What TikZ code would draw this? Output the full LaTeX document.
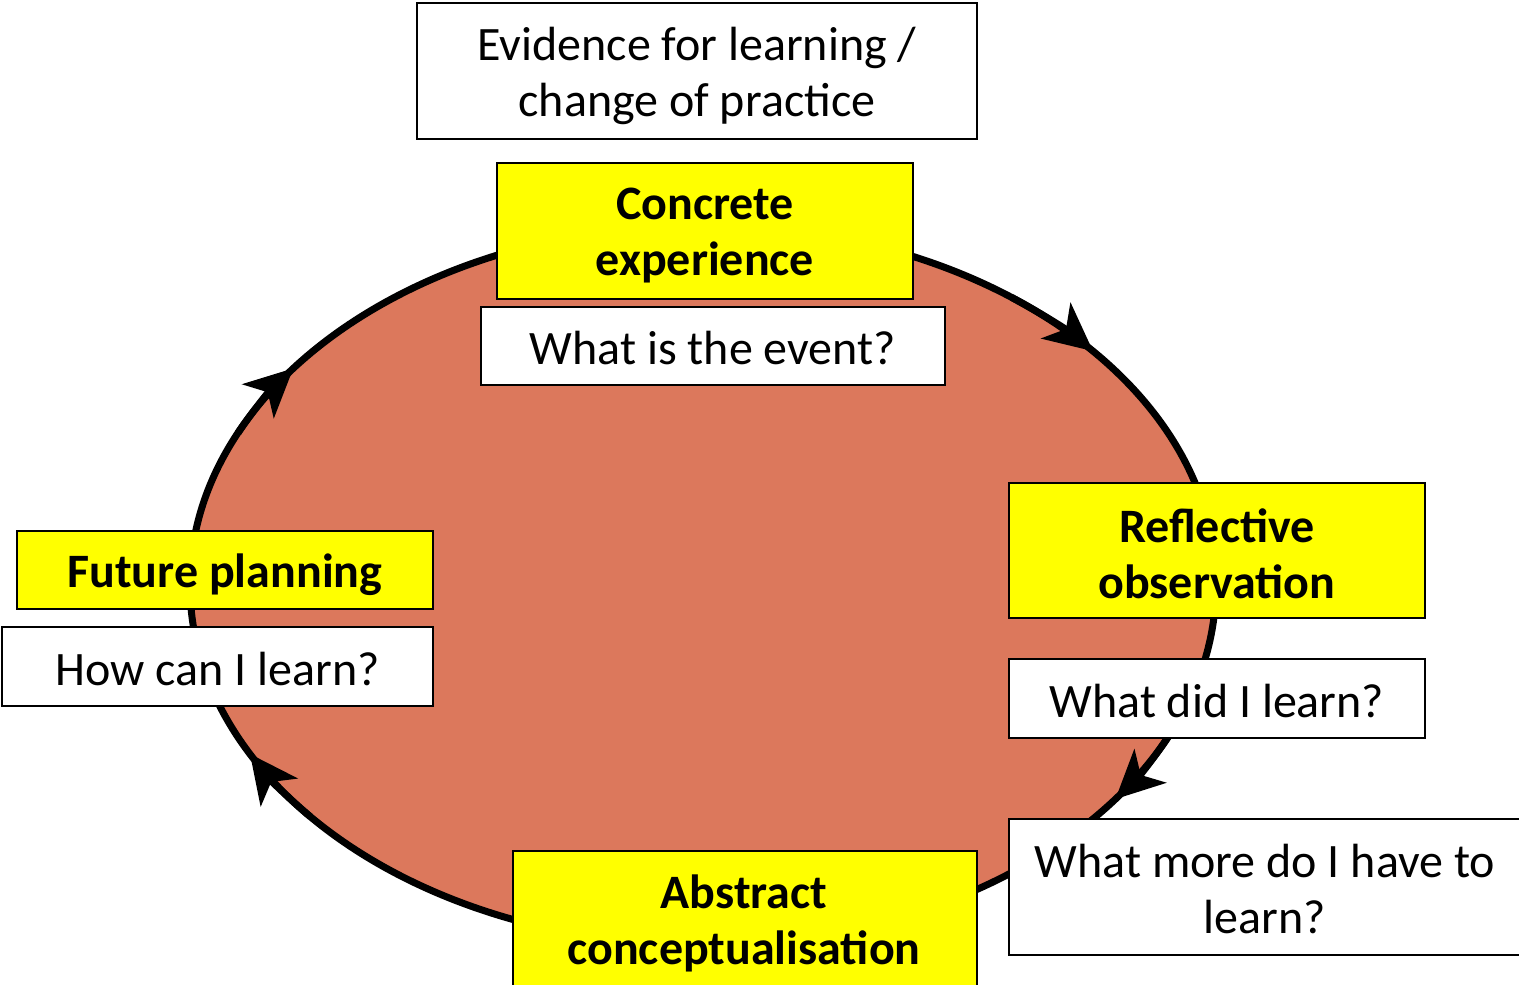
\documentclass[tikz,border=0pt]{standalone}
\usepackage{fontspec}
\setmainfont{Carlito}
\usetikzlibrary{arrows.meta}
\definecolor{salmon}{RGB}{220,120,92}
\definecolor{yel}{RGB}{255,255,0}
\begin{document}
\begin{tikzpicture}[x=1pt,y=-1pt,
  txt/.style={font=\fontsize{48}{56}\selectfont, align=center, inner sep=0pt},
  btxt/.style={txt, font=\fontsize{48}{56}\selectfont\bfseries},
  box/.style={draw=black, line width=1.8pt, fill=white, anchor=north west, inner sep=0pt},
  ybox/.style={box, fill=yel},
  cyc/.style={line width=7pt, -{Stealth[length=48pt,width=46pt,inset=13pt]}}
]
\useasboundingbox (0,0) rectangle (1519,985);
\coordinate (c) at (703,585);
\fill[salmon] (c) ellipse [x radius=513, y radius=360];
\draw[line width=7pt] (c) ellipse [x radius=513, y radius=360];
% arrowheads (clockwise)
\draw[cyc] ([shift={(-53:513 and 360)}]c) arc[start angle=-53, end angle=-40.5, x radius=513, y radius=360];
\draw[cyc] ([shift={(24:513 and 360)}]c) arc[start angle=24, end angle=36.5, x radius=513, y radius=360];
\draw[cyc] ([shift={(140:513 and 360)}]c) arc[start angle=140, end angle=152, x radius=513, y radius=360];
\draw[cyc] ([shift={(205:513 and 360)}]c) arc[start angle=205, end angle=217, x radius=513, y radius=360];
% boxes
\node[box, minimum width=560, minimum height=136] (evid) at (416,2) {};
\node[txt] (evidt) at ([yshift=-5pt]evid.center) {Evidence for learning /\\change of practice};
\node[ybox, minimum width=416, minimum height=136] (conc) at (496,162) {};
\node[btxt] (conct) at ([yshift=-5pt]conc.center) {Concrete\\experience};
\node[box, minimum width=464, minimum height=78] (event) at (480,306) {};
\node[txt] (eventt) at ([yshift=-2pt]event.center) {What is the event?};
\node[ybox, minimum width=416, minimum height=135] (refl) at (1008,482) {};
\node[btxt] (reflt) at ([yshift=-3pt]refl.center) {Reflective\\observation};
\node[box, minimum width=416, minimum height=79] (did) at (1008,658) {};
\node[txt] (didt) at ([yshift=-3pt]did.center) {What did I learn?};
\node[box, minimum width=514, minimum height=136] (more) at (1008,818) {};
\node[txt] (moret) at (1265,889) {What more do I have to\\learn?};
\node[ybox, minimum width=464, minimum height=150] (abs) at (512,850) {};
\node[btxt] (abst) at (744,923) {Abstract\\conceptualisation};
\node[ybox, minimum width=416, minimum height=78] (fut) at (16,530) {};
\node[btxt] (futt) at ([yshift=-5pt]fut.center) {Future planning};
\node[box, minimum width=431, minimum height=79] (how) at (1,626) {};
\node[txt] (howt) at ([yshift=-3pt]how.center) {How can I learn?};
\end{tikzpicture}
\end{document}
